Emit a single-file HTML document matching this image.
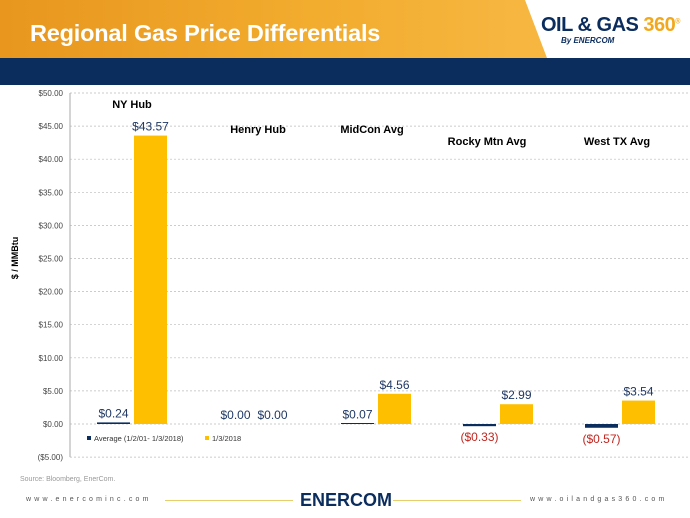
<!DOCTYPE html>
<html><head><meta charset="utf-8"><style>
body{margin:0;width:690px;height:518px;overflow:hidden;background:#fff;font-family:"Liberation Sans",Arial,sans-serif;position:relative}
.hdr{position:absolute;left:0;top:0;width:690px;height:58px;background:linear-gradient(90deg,#e8961e 0%,#f2ac2e 45%,#f6b640 75%,#f4b23a 100%)}
.title{position:absolute;left:30px;top:20px;color:#fff;font-weight:bold;font-size:23.5px;letter-spacing:-0.2px}
.logo{position:absolute;left:525px;top:0;width:165px;height:58px;background:#fff;clip-path:polygon(0 0,100% 0,100% 100%,22px 100%,22px 100%,0 0)}
.band{position:absolute;left:0;top:58px;width:690px;height:27px;background:#0b2d5e}
</style></head><body>
<div class="hdr"></div>
<div class="title">Regional Gas Price Differentials</div>
<div class="logo">
<div style="position:absolute;left:16px;top:14px;font-weight:bold;font-size:20px;color:#0b2d5e;letter-spacing:-0.5px">OIL &amp; GAS <span style="color:#f2a81d">360</span><sup style="font-size:7px;color:#f2a81d">®</sup></div>
<div style="position:absolute;left:36px;top:36px;font-weight:bold;font-style:italic;font-size:8px;color:#0b2d5e">By ENERCOM</div>
</div>
<div class="band"></div>
<svg id="chart" width="690" height="518" style="position:absolute;left:0;top:0"></svg>
<div style="position:absolute;left:20px;top:476px;font-size:7px;color:#999">Source: Bloomberg, EnerCom.</div>
<div style="position:absolute;left:26px;top:496px;font-size:7px;color:#555;letter-spacing:3.2px">www.enercominc.com</div>
<div style="position:absolute;left:165px;top:500px;width:128px;height:1px;background:#e6cf6a"></div>
<div style="position:absolute;left:300px;top:490px;font-weight:bold;font-size:18px;color:#0b2d5e">ENERCOM</div>
<div style="position:absolute;left:393px;top:500px;width:128px;height:1px;background:#e6cf6a"></div>
<div style="position:absolute;left:530px;top:496px;font-size:7px;color:#555;letter-spacing:3.2px">www.oilandgas360.com</div>
<script>
const categories=["NY Hub","Henry Hub","MidCon Avg","Rocky Mtn Avg","West TX Avg"];
const avgValues=[0.24,0,0.07,-0.33,-0.57];
const dayValues=[43.57,0,4.56,2.99,3.54];
const tickValues=[-5,0,5,10,15,20,25,30,35,40,45,50];
const catLabelY=[108,133,133,145,145];
const NS="http://www.w3.org/2000/svg";
const svg=document.getElementById('chart');
const x0=70,x1=690,yTop=93,yZero=424;
const y=v=>yZero-(v)*(yZero-yTop)/50;
const gw=122,firstCenter=132;
const labelShift=[0,4,-4,-11,-3];
function mk(t,a){const e=document.createElementNS(NS,t);for(const k in a)e.setAttribute(k,a[k]);svg.appendChild(e);return e;}
const fmt=v=>v<0?"($"+Math.abs(v).toFixed(2)+")":"$"+v.toFixed(2);
tickValues.forEach(t=>{
  const g=mk('line',{x1:x0,x2:x1,y1:y(t),y2:y(t),stroke:'#bbb','stroke-dasharray':'2,2','stroke-width':0.7});
  
  
  const l=mk('text',{x:x0-7,y:y(t)+3,'text-anchor':'end','font-size':8,fill:'#444'});
  l.textContent=t<0?"($"+Math.abs(t).toFixed(2)+")":"$"+t.toFixed(2);
  
  
});
const ax=mk('line',{x1:x0,x2:x0,y1:yTop,y2:y(-5),stroke:'#aaa','stroke-width':1});


const yt=mk('text',{x:18,y:258,'text-anchor':'middle','font-size':9,'font-weight':'bold',fill:'#000',transform:'rotate(-90 18 258)'});
yt.textContent='$ / MMBtu';


const bw=33;
categories.forEach((c,i)=>{
  const cx=firstCenter+gw*i;
  const a=avgValues[i],d=dayValues[i];
  const ah=a===0?0:Math.max(Math.abs(y(a)-y(0)),1);
  const ab=mk('rect',{x:cx-bw-2,y:a<0?y(0):y(0)-ah,width:bw,height:ah,fill:'#0b2d5e'});
  
  
  const db=mk('rect',{x:cx+2,y:Math.min(y(d),y(0)),width:bw,height:Math.abs(y(d)-y(0)),fill:'#fdbf00'});
  
  
  const al=mk('text',{x:cx-bw/2-2,y:a<0?y(a)+15:y(a)-5,'text-anchor':'middle','font-size':12,fill:a<0?'#c0261f':'#1f3864'});
  al.textContent=fmt(a);
  
  
  const dl=mk('text',{x:cx+bw/2+2,y:y(d)-5,'text-anchor':'middle','font-size':12,fill:'#1f3864'});
  dl.textContent=fmt(d);
  
  
  const cl=mk('text',{x:cx+labelShift[i],y:catLabelY[i],'text-anchor':'middle','font-size':11,'font-weight':'bold',fill:'#000'});
  cl.textContent=c;
  
  
});
const l1=mk('rect',{x:87,y:436,width:4,height:4,fill:'#0b2d5e'});


const t1=mk('text',{x:94,y:441,'font-size':7.5,fill:'#333'});t1.textContent='Average (1/2/01- 1/3/2018)';


const l2=mk('rect',{x:205,y:436,width:4,height:4,fill:'#fdbf00'});


const t2=mk('text',{x:212,y:441,'font-size':7.5,fill:'#333'});t2.textContent='1/3/2018';


</script>
</body></html>
